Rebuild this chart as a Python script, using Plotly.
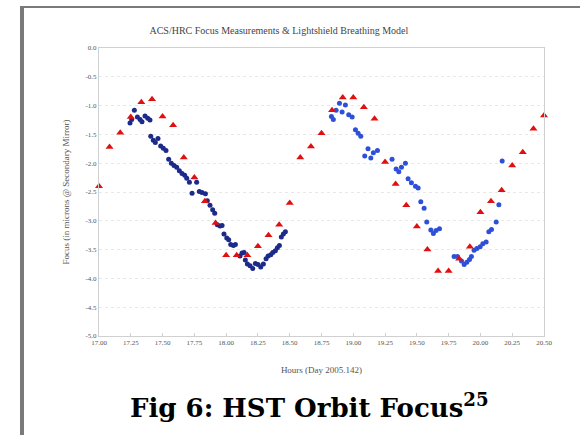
import plotly.graph_objects as go

# Model (red triangles): hours and focus
model_hours = [17.000, 17.083, 17.167, 17.250, 17.333, 17.417, 17.500, 17.583, 17.667, 17.750,
               17.833, 17.917, 18.000, 18.083, 18.167, 18.250, 18.333, 18.417, 18.500, 18.583,
               18.667, 18.750, 18.833, 18.917, 19.000, 19.083, 19.167, 19.250, 19.333, 19.417,
               19.500, 19.583, 19.667, 19.750, 19.833, 19.917, 20.000, 20.083, 20.167, 20.250,
               20.333, 20.417, 20.500]
model_focus = [-2.40, -1.72, -1.47, -1.20, -0.94, -0.89, -1.19, -1.34, -1.90, -2.25,
               -2.66, -3.04, -3.60, -3.60, -3.60, -3.44, -3.25, -3.07, -2.69, -1.90,
               -1.71, -1.48, -1.08, -0.86, -0.86, -1.03, -1.23, -1.98, -2.36, -2.73,
               -3.10, -3.50, -3.87, -3.87, -3.66, -3.45, -2.85, -2.66, -2.47, -2.04,
               -1.81, -1.40, -1.17]

# Measurements, first orbit (navy)
meas1_hours = [17.244, 17.257, 17.278, 17.302, 17.323, 17.338, 17.362, 17.383, 17.401, 17.407,
               17.427, 17.443, 17.464, 17.485, 17.506, 17.527, 17.548, 17.569, 17.590, 17.611,
               17.632, 17.653, 17.674, 17.690, 17.711, 17.732, 17.768, 17.789, 17.810, 17.837,
               17.852, 17.873, 17.894, 17.910, 17.931, 17.952, 17.968, 17.983, 18.005, 18.020,
               18.036, 18.057, 18.073, 18.109, 18.125, 18.141, 18.151, 18.167, 18.188, 18.209,
               18.230, 18.251, 18.272, 18.293, 18.314, 18.330, 18.351, 18.367, 18.387, 18.403,
               18.419, 18.434, 18.450, 18.466]
meas1_focus = [-1.30, -1.24, -1.08, -1.20, -1.24, -1.28, -1.18, -1.22, -1.25, -1.53,
               -1.60, -1.64, -1.57, -1.70, -1.74, -1.78, -1.93, -2.00, -2.04, -2.07,
               -2.13, -2.18, -2.21, -2.26, -2.33, -2.52, -2.33, -2.49, -2.51, -2.53,
               -2.65, -2.73, -2.81, -2.87, -3.07, -3.09, -3.08, -3.23, -3.30, -3.33,
               -3.41, -3.43, -3.41, -3.61, -3.56, -3.55, -3.68, -3.75, -3.78, -3.83,
               -3.74, -3.76, -3.80, -3.75, -3.66, -3.61, -3.59, -3.55, -3.52, -3.47,
               -3.43, -3.28, -3.23, -3.19]

# Measurements, second orbit (blue)
meas2_hours = [18.828, 18.843, 18.865, 18.891, 18.912, 18.938, 18.964, 18.991, 19.017, 19.038,
               19.059, 19.090, 19.116, 19.138, 19.158, 19.190, 19.305, 19.337, 19.358, 19.379,
               19.410, 19.431, 19.457, 19.489, 19.510, 19.531, 19.557, 19.578, 19.610, 19.630,
               19.651, 19.678, 19.793, 19.819, 19.851, 19.872, 19.893, 19.914, 19.929, 19.950,
               19.972, 19.998, 20.019, 20.045, 20.066, 20.087, 20.124, 20.145, 20.171]
meas2_focus = [-1.19, -1.24, -1.08, -0.96, -1.11, -0.99, -1.16, -1.20, -1.42, -1.48,
               -1.53, -1.875, -1.75, -1.91, -1.82, -1.78, -1.93, -2.10, -2.15, -2.07,
               -2.00, -2.27, -2.34, -2.40, -2.43, -2.67, -2.78, -3.02, -3.16, -3.22,
               -3.17, -3.14, -3.62, -3.62, -3.70, -3.76, -3.72, -3.67, -3.62, -3.51,
               -3.48, -3.45, -3.40, -3.37, -3.19, -3.15, -3.02, -2.72, -1.96]

x_ticks = [17.00, 17.25, 17.50, 17.75, 18.00, 18.25, 18.50, 18.75, 19.00, 19.25,
           19.50, 19.75, 20.00, 20.25, 20.50]
y_ticks = [0.0, -0.5, -1.0, -1.5, -2.0, -2.5, -3.0, -3.5, -4.0, -4.5, -5.0]

SERIF = "Liberation Serif, Times New Roman, serif"
CAPTION_FONT = "DejaVu Serif, serif"

fig = go.Figure()
fig.add_trace(go.Scatter(x=meas1_hours, y=meas1_focus, mode="markers",
                         marker=dict(symbol="circle", size=5, color="#1c2a8a"),
                         showlegend=False))
fig.add_trace(go.Scatter(x=meas2_hours, y=meas2_focus, mode="markers",
                         marker=dict(symbol="circle", size=5, color="#2e4fd8"),
                         showlegend=False))
fig.add_trace(go.Scatter(x=model_hours, y=model_focus, mode="markers",
                         marker=dict(symbol="triangle-up", size=7, color="#e01010"),
                         showlegend=False, cliponaxis=False))

L, R, T, B = 99, 36, 48, 99
W, H = 580, 435
pw, ph = W - L - R, H - T - B

def px(xp):
    return (xp - L) / pw

def py(yp):
    return (H - B - yp) / ph

fig.update_layout(
    width=W, height=H,
    margin=dict(l=L, r=R, t=T, b=B),
    paper_bgcolor="white", plot_bgcolor="white",
    font=dict(family=SERIF, color="#555555"),
    title=dict(text="ACS/HRC Focus Measurements &amp; Lightshield Breathing Model",
               x=px(313), xanchor="center", y=1 - 30 / H, yanchor="middle",
               font=dict(family=SERIF, size=10, color="#444444")),
    xaxis=dict(range=[17.0, 20.5], tickvals=x_ticks,
               ticktext=["%.2f" % v for v in x_ticks],
               showgrid=False, zeroline=False,
               showline=True, linecolor="#d0d0d0", linewidth=1, mirror=True,
               ticks="inside", ticklen=3, tickcolor="#d0d0d0",
               tickfont=dict(family=SERIF, size=7, color="#555555"),
               title=dict(text="Hours (Day 2005.142)", standoff=20,
                          font=dict(family=SERIF, size=9, color="#555555"))),
    yaxis=dict(range=[-5.0, 0.0], tickvals=y_ticks,
               ticktext=["%.1f" % v for v in y_ticks],
               showgrid=True, gridcolor="#e8e8e8", griddash="dot", gridwidth=1,
               zeroline=False,
               showline=True, linecolor="#d0d0d0", linewidth=1, mirror=True,
               ticks="", tickfont=dict(family=SERIF, size=7, color="#555555"),
               title=dict(text="Focus (in microns @ Secondary Mirror)", standoff=14,
                          font=dict(family=SERIF, size=9, color="#555555"))),
    shapes=[
        dict(type="rect", xref="paper", yref="paper",
             x0=px(20), x1=px(24), y0=py(436), y1=py(6),
             line=dict(width=0), fillcolor="#7a7a7a", layer="above"),
        dict(type="rect", xref="paper", yref="paper",
             x0=px(20), x1=px(581), y0=py(8), y1=py(6),
             line=dict(width=0), fillcolor="#7a7a7a", layer="above"),
    ],
    annotations=[
        dict(text="<b>Fig 6: HST Orbit Focus<sup>25</sup></b>",
             xref="paper", yref="paper", x=px(309), y=py(406),
             xanchor="center", yanchor="middle", showarrow=False,
             font=dict(family=CAPTION_FONT, size=26, color="#000000")),
    ],
)

fig.write_html("out.html")
